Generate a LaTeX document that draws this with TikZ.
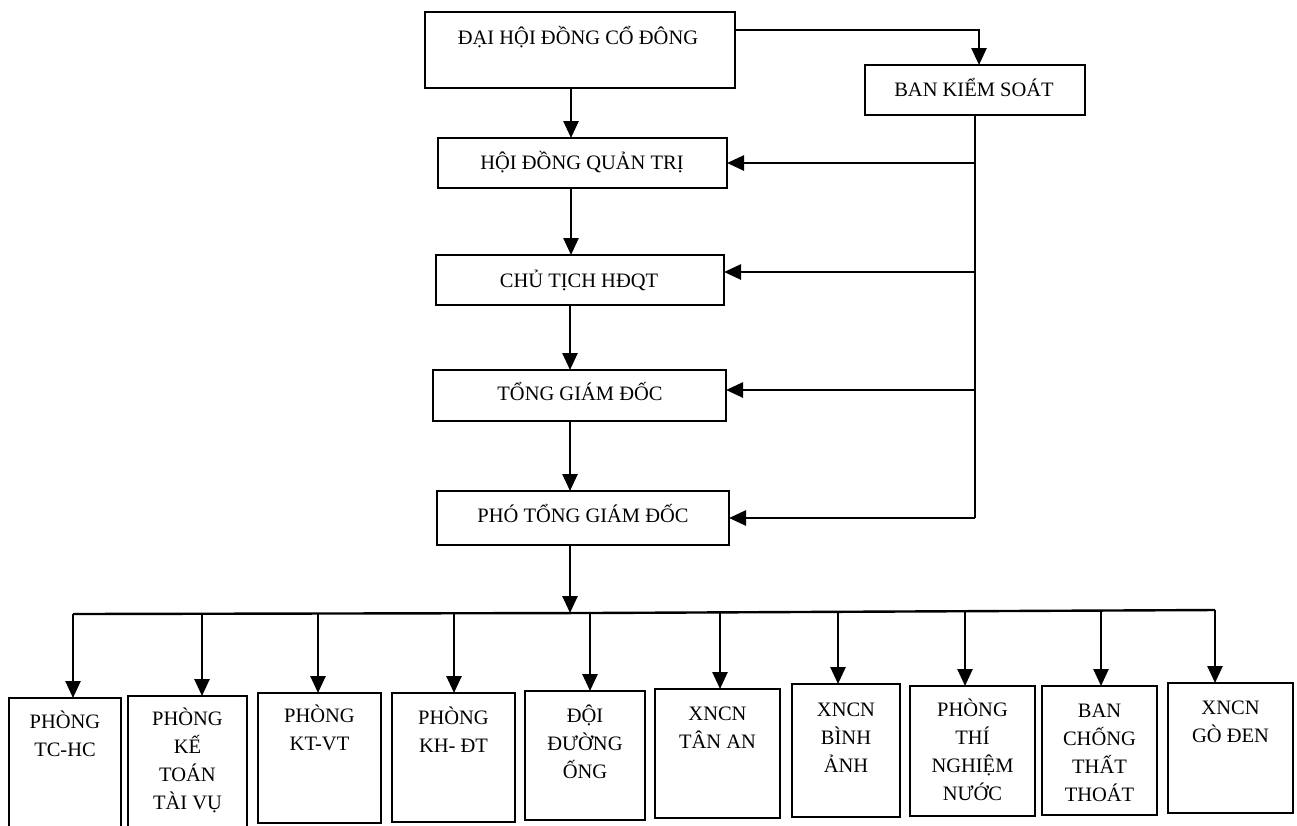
\documentclass[tikz,border=0pt]{standalone}
\usepackage{fontspec}
\setmainfont{Liberation Serif}
\usetikzlibrary{arrows.meta}
\begin{document}
\begin{tikzpicture}[x=1pt,y=-1pt,
  box/.style={draw,line width=2.2pt,inner sep=0pt,outer sep=0pt},
  lbl/.style={font=\fontsize{20.5}{28}\selectfont,align=center,inner sep=0pt},
  sub/.style={lbl,anchor=north},
  arr/.style={line width=2.6pt,-{Triangle[length=17pt,width=15pt]}},
  ln/.style={line width=2.4pt}]
\useasboundingbox (0,0) rectangle (1297,825);
\newcommand{\topstrut}{\vrule height 20pt depth 0pt width 0pt}
% top boxes
\node[box,minimum width=310pt,minimum height=76pt] (dh) at (580,50) {};
\node[lbl,anchor=base] (tdh) at (578,44) {ĐẠI HỘI ĐỒNG CỔ ĐÔNG};
\node[box,minimum width=220pt,minimum height=50pt] (bks) at (975,90) {};
\node[lbl,anchor=base] (tbks) at (974,96) {BAN KIỂM SOÁT};
\node[box,minimum width=289pt,minimum height=50pt] (hd) at (582.5,163) {};
\node[lbl,anchor=base] (thd) at (582,169) {HỘI ĐỒNG QUẢN TRỊ};
\node[box,minimum width=288pt,minimum height=50pt] (ct) at (580,280) {};
\node[lbl,anchor=base] (tct) at (579,287) {CHỦ TỊCH HĐQT};
\node[box,minimum width=293pt,minimum height=51pt] (tg) at (579.5,395.5) {};
\node[lbl,anchor=base] (ttg) at (580,400) {TỔNG GIÁM ĐỐC};
\node[box,minimum width=292pt,minimum height=54pt] (pt) at (583,518) {};
\node[lbl,anchor=base] (tpt) at (583,522) {PHÓ TỔNG GIÁM ĐỐC};
% vertical chain
\coordinate (ax) at (571,0);
\draw[arr] (dh.south -| ax) -- (hd.north -| ax);
\draw[arr] (hd.south -| ax) -- (ct.north -| ax);
\coordinate (ax2) at (570,0);
\draw[arr] (ct.south -| ax2) -- (tg.north -| ax2);
\draw[arr] (tg.south -| ax2) -- (pt.north -| ax2);
% to ban kiem soat
\coordinate (tr) at (979,30);
\draw[arr] (dh.east |- tr) -- (tr) -- (tr |- bks.north);
% ban kiem soat side line
\coordinate (r1) at (975,163);
\coordinate (r2) at (975,272);
\coordinate (r3) at (975,390);
\coordinate (r4) at (975,518);
\draw[ln] (bks.south -| r1) -- (r4);
\draw[arr] (r1) -- (r1 -| hd.east);
\draw[arr] (r2) -- (r2 -| ct.east);
\draw[arr] (r3) -- (r3 -| tg.east);
\draw[arr] (r4) -- (r4 -| pt.east);
% bottom boxes
\node[box,minimum width=112pt,minimum height=130pt] (b1) at (65,763) {};
\node[box,minimum width=119pt,minimum height=132pt] (b2) at (187.5,762) {};
\node[box,minimum width=123pt,minimum height=130pt] (b3) at (319.5,758) {};
\node[box,minimum width=123pt,minimum height=129pt] (b4) at (453.5,757.5) {};
\node[box,minimum width=120pt,minimum height=129pt] (b5) at (585,755.5) {};
\node[box,minimum width=125pt,minimum height=129pt] (b6) at (717.5,753.5) {};
\node[box,minimum width=108pt,minimum height=133pt] (b7) at (846,750.5) {};
\node[box,minimum width=125pt,minimum height=130pt] (b8) at (972.5,751) {};
\node[box,minimum width=115pt,minimum height=129pt] (b9) at (1099.5,750.5) {};
\node[box,minimum width=125pt,minimum height=130pt] (b10) at (1230.5,748) {};
\node[sub] (t1) at ([yshift=-10pt]b1.north) {\topstrut PHÒNG\\TC-HC};
\node[sub] (t2) at ([yshift=-9pt]b2.north) {\topstrut PHÒNG\\KẾ\\TOÁN\\TÀI VỤ};
\node[sub] (t3) at ([yshift=-9pt]b3.north) {\topstrut PHÒNG\\KT-VT};
\node[sub] (t4) at ([yshift=-11pt]b4.north) {\topstrut PHÒNG\\KH- ĐT};
\node[sub] (t5) at ([yshift=-11pt]b5.north) {\topstrut ĐỘI\\ĐƯỜNG\\ỐNG};
\node[sub] (t6) at ([yshift=-11pt]b6.north) {\topstrut XNCN\\TÂN AN};
\node[sub] (t7) at ([yshift=-12pt]b7.north) {\topstrut XNCN\\BÌNH\\ẢNH};
\node[sub] (t8) at ([yshift=-10pt]b8.north) {\topstrut PHÒNG\\THÍ\\NGHIỆM\\NƯỚC};
\node[sub] (t9) at ([yshift=-11pt]b9.north) {\topstrut BAN\\CHỐNG\\THẤT\\THOÁT};
\node[sub] (t10) at ([yshift=-11pt]b10.north) {\topstrut XNCN\\GÒ ĐEN};
% bus
\coordinate (pb) at (570,613);
\draw[arr] (pt.south -| pb) -- (pb);
\coordinate (k1) at (73,614);
\coordinate (k2) at (202,614);
\coordinate (k3) at (318,613);
\coordinate (k4) at (454,613);
\coordinate (k5) at (590,613);
\coordinate (k6) at (720,612);
\coordinate (k7) at (838,611);
\coordinate (k8) at (965,611);
\coordinate (k9) at (1101,610);
\coordinate (k10) at (1215,610);
\draw[ln] (k1) -- (k5) -- (k10);
\draw[arr] (k1) -- (k1 |- b1.north);
\draw[arr] (k2) -- (k2 |- b2.north);
\draw[arr] (k3) -- (k3 |- b3.north);
\draw[arr] (k4) -- (k4 |- b4.north);
\draw[arr] (k5) -- (k5 |- b5.north);
\draw[arr] (k6) -- (k6 |- b6.north);
\draw[arr] (k7) -- (k7 |- b7.north);
\draw[arr] (k8) -- (k8 |- b8.north);
\draw[arr] (k9) -- (k9 |- b9.north);
\draw[arr] (k10) -- (k10 |- b10.north);
\end{tikzpicture}
\end{document}
